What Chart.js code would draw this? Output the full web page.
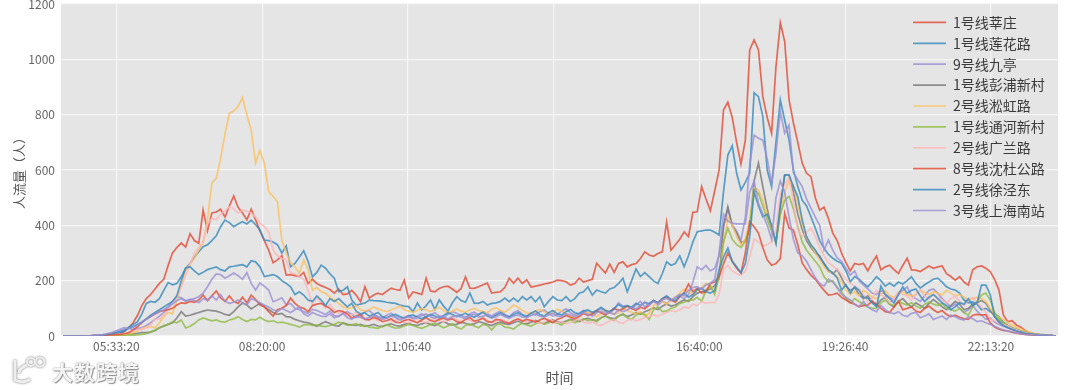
<!DOCTYPE html>
<html><head><meta charset="utf-8">
<style>
html,body{margin:0;padding:0;background:#fff;width:1080px;height:390px;overflow:hidden}
#wrap{position:relative;width:1080px;height:390px}
canvas{display:block}
#mark{position:absolute;left:52px;top:358px;font:bold 21px "Noto Sans CJK SC";line-height:26px;color:#f4f4f4;text-shadow:0 0 1.5px #777,1px 1px 1px #999;letter-spacing:1px}
#logo{position:absolute;left:9px;top:354px}
</style></head><body>
<div id="wrap">
<canvas id="c" width="1080" height="390"></canvas>
<svg id="logo" width="40" height="32" fill="none" stroke="#eee"><g style="filter:drop-shadow(0 0 1px #777)"><path d="M6 6v20c6 3 12 2 15-1M18 11c-5 2-8 5-8 8" stroke-width="3"/><circle cx="22" cy="8" r="4" stroke-width="2"/><circle cx="31" cy="8" r="4.5" stroke-width="2"/></g></svg>
<div id="mark">大数跨境</div>
</div>
<script src="https://cdn.jsdelivr.net/npm/chart.js@4/dist/chart.umd.js"></script>
<script>
const seriesNames = ["1号线莘庄","1号线莲花路","9号线九亭","1号线彭浦新村","2号线淞虹路","1号线通河新村","2号线广兰路","8号线沈杜公路","2号线徐泾东","3号线上海南站"];
const seriesColors = ["#E24A33","#348ABD","#988ED5","#777777","#FBC15E","#8EBA42","#FFB5B8","#E24A33","#348ABD","#988ED5"];
const xTickValues = [20000,30000,40000,50000,60000,70000,80000];
const xTickLabels = ["05:33:20","08:20:00","11:06:40","13:53:20","16:40:00","19:26:40","22:13:20"];
const xAxisRange = [16200,84600];
const yAxisRange = [0,1200];
const firstSample = 16350, sampleStep = 300;

const xinzhuang = [
0,0,0,0,0,0,0,1,2,3,
4,6,8,10,16,30,48,75,110,135,
150,170,190,205,255,300,320,336,322,370,
345,335,455,380,445,448,458,430,470,506,
465,445,420,458,420,380,345,310,265,275,
290,220,222,218,215,230,190,205,190,182,
175,168,155,170,150,152,165,148,124,178,
137,148,155,150,162,173,168,165,202,137,
159,155,150,209,163,160,172,178,180,170,
158,172,214,173,172,178,185,191,155,158,
160,175,209,191,209,190,203,177,180,184,
188,191,195,202,200,196,184,190,209,195,
200,205,263,245,228,260,230,262,268,250,
258,262,280,304,293,288,298,304,412,310,
330,350,376,359,447,449,540,495,453,525,
600,817,845,790,700,622,708,1034,1070,1034,
865,790,733,973,1132,1064,853,770,700,625,
588,576,500,455,466,425,372,345,300,265,
236,262,258,262,236,265,289,239,250,256,
240,226,255,281,239,238,233,243,253,245,
250,253,225,215,202,214,195,184,239,250,
253,245,233,205,166,76,52,55,40,32,
20,11,8,5,4,3,2,0];
const lianhualu = [
0,0,0,0,0,0,0,0,1,3,
4,6,7,10,18,32,42,52,80,118,
125,122,135,165,193,185,190,214,245,262,
285,305,323,330,345,362,395,419,410,395,
405,413,405,419,402,383,347,345,340,330,
300,325,250,262,285,308,270,214,230,256,
245,225,209,160,165,178,130,112,115,119,
130,128,127,125,122,120,118,112,108,106,
88,119,94,110,130,96,130,108,90,120,
142,128,122,155,119,118,125,112,118,120,
125,137,124,137,124,142,130,142,124,142,
106,125,142,130,128,142,125,135,155,160,
177,148,166,160,155,170,175,190,209,160,
200,242,215,229,215,199,190,225,268,256,
262,289,250,290,340,377,380,383,383,375,
365,520,654,687,589,528,555,589,879,865,
793,600,540,700,853,780,708,600,540,491,
470,431,390,345,317,295,281,270,263,235,
196,215,205,190,178,195,214,200,180,191,
180,195,188,200,214,190,173,185,195,205,
209,195,178,170,166,155,130,120,123,115,
95,100,88,80,70,50,38,30,24,18,
14,10,8,6,5,3,2,0];
const jiuting = [
0,0,0,0,0,0,1,2,3,4,
5,8,12,18,24,30,22,28,30,38,
48,60,72,85,105,125,142,138,128,132,
135,142,155,178,205,224,222,209,218,228,
218,205,229,190,166,192,180,166,124,130,
138,113,118,100,95,88,82,96,92,85,
78,90,74,70,82,88,78,66,72,88,
92,78,70,65,75,82,70,62,68,74,
66,72,80,68,76,84,72,66,78,88,
82,74,68,80,86,76,88,80,72,82,
90,78,70,84,92,78,72,82,76,88,
94,82,72,78,90,98,84,76,82,92,
86,78,90,100,88,82,96,120,108,110,
98,112,125,105,118,128,112,125,118,130,
138,145,135,150,195,250,240,255,235,245,
290,400,460,400,380,345,430,620,726,715,
708,640,552,660,811,733,762,589,565,540,
495,462,430,400,311,347,310,282,270,245,
220,235,200,185,170,155,150,165,150,140,
130,150,165,178,145,135,125,145,165,170,
155,135,120,105,115,100,85,95,110,90,
75,60,65,50,42,35,30,24,18,14,
10,8,6,4,3,2,1,0];
const pengpu = [
0,0,0,0,0,0,0,1,1,2,
2,3,4,5,6,8,8,10,12,12,
14,20,30,35,42,48,65,88,72,75,
80,85,90,94,92,90,85,78,75,88,
105,119,112,98,108,118,105,95,85,78,
82,70,68,60,55,50,48,42,35,44,
52,45,38,36,48,42,40,38,42,35,
38,42,36,34,40,44,38,36,42,46,
40,38,44,48,42,38,46,52,44,40,
42,50,46,40,44,52,48,42,38,46,
50,44,42,48,54,46,44,50,56,48,
46,52,58,50,48,54,60,56,52,60,
64,58,56,66,72,66,62,72,78,70,
76,84,78,88,94,102,96,108,116,108,
112,122,130,125,142,155,160,165,170,182,
205,395,467,400,372,336,345,390,560,625,
540,460,390,336,470,582,582,520,440,385,
345,320,300,290,260,235,225,240,210,180,
165,175,150,135,145,125,110,130,140,115,
105,125,135,118,105,120,110,100,118,132,
120,105,95,110,125,115,95,100,115,120,
128,118,95,70,55,42,32,26,20,16,
12,9,6,5,3,2,1,0];
const songhong = [
0,0,0,0,0,0,0,0,0,1,
1,2,2,3,3,8,12,18,28,32,
35,30,48,70,85,80,130,185,238,260,
280,311,336,420,553,570,640,730,805,813,
830,862,800,744,625,671,625,521,505,485,
347,300,264,250,226,275,240,166,175,160,
155,140,130,118,105,98,102,110,95,90,
96,105,98,92,88,95,100,108,96,90,
86,92,100,94,88,96,104,92,84,90,
98,90,86,94,100,92,88,84,96,102,
92,86,98,112,104,92,84,80,90,96,
88,78,84,96,90,80,72,66,72,82,
86,78,70,82,96,88,78,84,100,92,
86,80,88,72,82,110,120,125,115,130,
140,155,170,160,150,165,175,190,185,160,
210,330,430,400,360,330,350,420,535,528,
490,440,385,345,440,520,560,545,480,405,
355,330,300,275,250,232,230,215,195,165,
150,160,145,165,155,140,135,150,165,145,
140,155,160,150,145,150,165,158,150,160,
155,148,165,155,145,150,140,130,135,140,
135,125,100,78,68,60,48,40,32,25,
18,14,10,6,4,3,1,0];
const tonghe = [
0,0,0,0,0,0,0,0,0,0,
1,1,1,2,2,3,3,4,6,8,
15,22,30,38,42,52,48,58,29,35,
45,58,65,60,55,58,52,50,58,62,
70,60,52,60,58,68,58,52,55,48,
50,46,42,38,32,40,42,38,40,36,
34,38,42,50,46,38,40,45,36,38,
32,30,28,36,40,34,28,30,36,42,
38,32,28,34,42,46,38,30,36,44,
32,25,38,44,36,30,42,38,22,40,
44,32,30,25,38,46,40,36,44,50,
42,48,52,46,40,52,58,48,55,62,
56,60,52,66,72,62,56,72,80,66,
60,75,82,78,60,95,105,88,90,100,
105,118,122,130,130,140,125,165,180,150,
220,340,390,350,330,320,340,395,530,515,
470,420,380,340,440,490,505,460,395,340,
310,290,270,250,215,195,200,175,160,135,
120,135,125,115,105,100,100,120,130,115,
110,125,118,112,120,108,100,115,122,115,
110,118,100,95,90,100,85,75,105,125,
148,155,130,85,62,48,38,30,24,18,
14,10,7,5,3,2,1,0];
const guanglan = [
0,0,0,0,0,0,0,1,2,3,
4,5,6,7,8,12,18,22,24,28,
40,60,62,75,95,118,140,178,220,258,
300,320,340,405,426,420,440,452,467,460,
445,455,451,445,430,408,395,375,311,290,
280,275,228,225,215,205,165,115,138,120,
100,115,95,82,90,72,78,85,66,60,
68,62,55,60,65,52,56,62,50,48,
55,62,52,48,58,64,55,50,58,68,
60,54,62,56,50,58,66,58,48,52,
60,55,48,56,62,54,50,58,52,46,
50,60,54,48,52,44,48,56,62,50,
46,52,42,38,46,54,60,50,46,56,
62,55,60,66,70,76,72,78,85,92,
88,95,105,100,115,110,125,118,122,120,
150,240,255,235,225,220,235,285,350,340,
325,330,340,380,517,545,575,480,383,360,
375,390,360,320,290,265,253,240,225,205,
190,180,170,150,125,135,165,150,140,120,
135,160,150,145,130,150,165,145,135,150,
140,130,120,135,145,125,110,130,140,120,
105,85,60,55,48,42,36,28,22,16,
12,8,6,4,3,2,1,0];
const shendu = [
0,0,0,0,0,0,0,1,1,2,
3,4,5,6,8,12,22,34,48,62,
70,80,88,92,95,100,112,120,118,125,
122,130,148,128,145,163,138,125,145,125,
118,140,120,148,132,112,106,88,72,95,
100,110,137,118,105,100,88,110,115,118,
108,100,85,92,88,80,65,72,78,60,
58,68,62,52,55,62,50,48,56,60,
54,48,58,66,56,52,60,64,58,62,
52,48,60,66,54,58,64,52,50,60,
58,50,46,55,62,54,60,56,50,58,
64,56,48,60,66,74,68,62,70,82,
74,80,92,84,76,88,100,92,98,108,
100,92,104,98,112,128,120,135,142,130,
122,142,155,188,160,172,155,160,190,195,
215,260,300,270,245,228,300,413,395,372,
320,275,256,262,280,444,390,383,330,264,
240,220,205,184,165,148,150,155,140,130,
120,115,106,110,112,125,115,100,88,85,
105,125,95,100,105,90,85,100,108,95,
85,92,78,70,75,68,62,60,75,78,
76,76,48,32,25,20,18,14,10,8,
6,4,3,2,1,1,0,0];
const xujingdong = [
0,0,0,0,0,0,0,1,2,4,
6,8,12,16,20,28,34,42,50,62,
75,85,95,105,115,125,145,200,245,250,
235,222,230,240,245,250,240,235,250,252,
255,258,250,272,268,250,215,218,222,215,
200,190,178,150,160,148,130,125,145,130,
110,135,125,135,120,105,118,90,80,84,
72,78,85,70,66,74,78,70,64,72,
76,68,62,70,78,72,66,74,84,78,
70,76,82,74,68,78,86,72,66,76,
84,74,68,78,84,76,70,82,90,78,
72,84,92,80,76,88,96,84,80,90,
94,86,92,104,92,88,100,114,104,110,
104,118,110,122,116,128,120,135,145,132,
128,145,155,140,150,168,173,160,155,165,
240,285,318,270,250,228,262,360,521,470,
431,440,400,336,470,582,582,540,503,420,
359,330,311,285,263,240,228,210,166,185,
155,178,165,140,137,120,106,180,150,135,
119,150,178,155,165,170,145,125,140,150,
135,120,110,95,105,120,115,135,110,120,
184,184,150,70,50,38,30,24,18,14,
10,8,6,4,3,2,1,0];
const shanghainan = [
0,0,0,0,0,0,1,2,3,4,
8,12,18,24,30,26,32,40,52,60,
70,80,88,95,105,115,128,135,125,132,
128,120,135,130,145,130,150,125,118,122,
130,120,112,135,128,120,112,105,95,88,
100,92,85,95,105,80,72,85,78,72,
70,80,66,72,82,66,60,72,68,62,
66,74,68,60,64,72,66,58,64,70,
62,66,74,80,70,64,72,68,62,70,
74,68,62,74,78,68,72,76,66,70,
78,70,64,72,76,68,66,74,80,72,
68,76,82,72,70,80,76,70,76,84,
78,72,84,90,80,86,78,96,88,94,
104,98,110,120,112,125,118,130,136,128,
140,150,145,165,175,178,168,185,190,205,
300,440,415,408,405,405,405,520,560,480,
440,400,350,500,560,520,430,350,300,290,
270,240,210,190,180,205,195,175,150,140,
130,115,105,125,105,95,88,110,95,85,
80,88,75,70,82,85,66,72,80,60,
66,72,60,75,70,62,58,70,62,52,
55,48,42,35,28,22,18,14,12,8,
6,5,4,3,2,1,1,0];

const allSeries = [xinzhuang,lianhualu,jiuting,pengpu,songhong,tonghe,guanglan,shendu,xujingdong,shanghainan];
const hexA = (h,a)=>h+Math.round(a*255).toString(16).padStart(2,'0');
const datasets = allSeries.map((vals,k)=>({
  label: seriesNames[k],
  data: vals.map((v,i)=>({x:firstSample+i*sampleStep,y:v})),
  borderColor: hexA(seriesColors[k],0.8),
  backgroundColor: hexA(seriesColors[k],0.8),
  borderWidth: 1.7,
  pointRadius: 0,
  tension: 0,
  order: allSeries.length-k
}));
const cjk = '"Noto Sans CJK SC","Noto Sans",sans-serif';
const plotBg = {
  id:'plotBg',
  beforeDraw(ch){
    const a=ch.chartArea,c=ch.ctx;
    c.save();c.fillStyle='#E5E5E5';c.fillRect(a.left,a.top,a.right-a.left,a.bottom-a.top);c.restore();
  }
};
const legendPlace = {
  id:'legendPlace',
  afterLayout(ch){
    const l=ch.legend;
    l.left=906.1; l.right=1058; l.top=8.5; l.bottom=240;
  }
};
new Chart(document.getElementById('c'),{
  type:'line',
  data:{datasets},
  plugins:[plotBg,legendPlace],
  options:{
    responsive:false,animation:false,
    devicePixelRatio:1,
    layout:{padding:{top:4,right:22,left:0,bottom:0}},
    plugins:{
      tooltip:{enabled:false},
      legend:{
        position:'chartArea',align:'start',
        labels:{boxWidth:33,boxHeight:0,padding:6.9,color:'#3a3a3a',font:{family:cjk,size:14},
          sort:(a,b)=>a.datasetIndex-b.datasetIndex}
      }
    },
    scales:{
      x:{
        type:'linear',min:xAxisRange[0],max:xAxisRange[1],
        afterFit(s){s.height=54;},
        afterBuildTicks(s){s.ticks=xTickValues.map(v=>({value:v}));},
        grid:{color:'#f6f6f6',lineWidth:1.2,drawTicks:false},
        border:{display:false},
        ticks:{padding:3,maxRotation:0,autoSkip:false,color:'#666',font:{family:cjk,size:12},
          callback:(v)=>xTickLabels[xTickValues.indexOf(v)]},
        title:{display:true,text:'时间',color:'#555',font:{family:cjk,size:14},padding:{top:0,bottom:4}}
      },
      y:{
        min:yAxisRange[0],max:yAxisRange[1],
        afterFit(s){s.width=61;s.paddingTop=0;s.paddingBottom=0;},
        grid:{color:'#f6f6f6',lineWidth:1.2,drawTicks:false},
        border:{display:false},
        ticks:{stepSize:200,padding:6,color:'#666',font:{family:cjk,size:12},callback:(v)=>String(v)},
        title:{display:true,text:'人流量（人）',color:'#555',font:{family:cjk,size:13},padding:{top:11,bottom:0}}
      }
    }
  }
});
</script>
</body></html>
